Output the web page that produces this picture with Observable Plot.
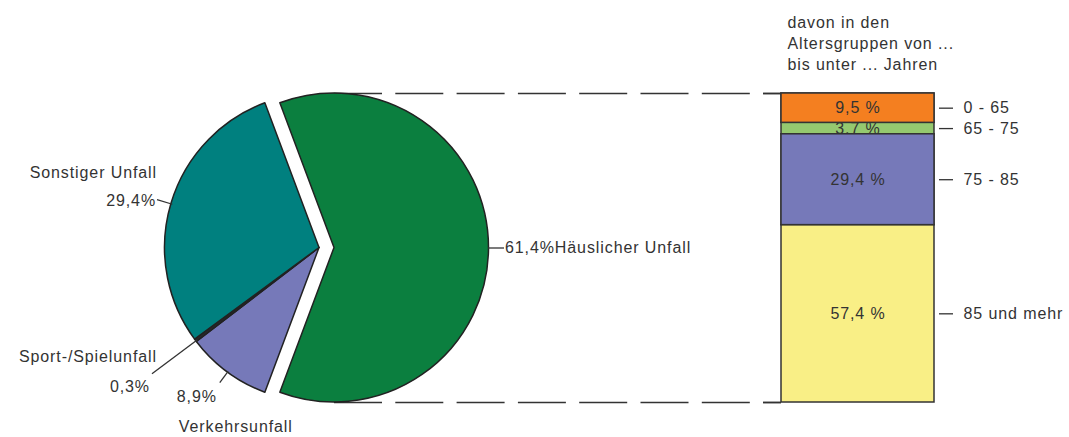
<!DOCTYPE html>
<html><head><meta charset="utf-8">
<script src="https://cdn.jsdelivr.net/npm/d3@7"></script>
<script src="https://cdn.jsdelivr.net/npm/@observablehq/plot@0.6"></script>
<style>body{margin:0;background:#fff;}</style>
</head><body><div id="chart"></div>
<script>
// ---- data ----
const causes = ["Häuslicher Unfall", "Verkehrsunfall", "Sport-/Spielunfall", "Sonstiger Unfall"];
const causeShares = [61.4, 8.9, 0.3, 29.4];
const causeColors = ["#0b7f3f", "#7679b9", "#2a2a2a", "#00807f"];
const ageGroups = ["0 - 65", "65 - 75", "75 - 85", "85 und mehr"];
const ageShares = [9.5, 3.7, 29.4, 57.4];
const ageColors = ["#f47f20", "#95c96f", "#7679b9", "#f9ef86"];
const titleLines = ["davon in den", "Altersgruppen von ...", "bis unter ... Jahren"];

const fmt = v => v.toFixed(1).replace(".", ",");

// ---- layout ----
const W = 1069, H = 437, mTop = 93, mBottom = 35;
const pieCx = 319, explode = 15;
const barX1 = 781, barX2 = 934;
const ink = "#333";
const yScale = Plot.scale({y: {domain: [0, 100], range: [H - mBottom, mTop]}});
const pieCy = yScale.apply(50);
const pieR = yScale.apply(0) - yScale.apply(50);

const total = d3.sum(causeShares);
const start = Math.PI / 2 - causeShares[0] / total * Math.PI;
const arcs = d3.pie().sort(null).startAngle(start).endAngle(start + 2 * Math.PI)(causeShares);
const slices = causes.map((c, i) => ({
  cause: c, share: causeShares[i], color: causeColors[i],
  a0: arcs[i].startAngle, a1: arcs[i].endAngle, off: i === 0 ? explode : 0
}));
function pt(s, r) {
  const m = (s.a0 + s.a1) / 2;
  return [pieCx + (s.off + r) * Math.sin(m), pieCy - (s.off + r) * Math.cos(m)];
}
const labelLayout = {
  "Häuslicher Unfall": {leader: 15, inline: true, pct: [1, 0, "start"]},
  "Sonstiger Unfall": {leader: 15, pct: [-1, 1.5, "end"], name: [0, -27, "end"]},
  "Sport-/Spielunfall": {leader: 55, pct: [-2, 13, "end"], name: [5, -17, "end"]},
  "Verkehrsunfall": {leader: 13, pct: [-23, 14, "middle"], name: [-41, 44, "start"]}
};
const leaders = [], pieLabels = [];
for (const s of slices) {
  const L = labelLayout[s.cause];
  const [x1, y1] = pt(s, pieR - 1);
  const [x2, y2] = pt(s, pieR + L.leader);
  leaders.push({x1, y1: yScale.invert(y1), x2, y2: yScale.invert(y2)});
  const pctText = fmt(s.share) + "%";
  pieLabels.push({text: L.inline ? pctText + s.cause : pctText, x: x2 + L.pct[0], y: yScale.invert(y2 + L.pct[1]), anchor: L.pct[2]});
  if (!L.inline) pieLabels.push({text: s.cause, x: x2 + L.name[0], y: yScale.invert(y2 + L.name[1]), anchor: L.name[2]});
}

// stacked bar, first group on top
let acc = 100;
const ages = ageGroups.map((g, i) => {
  const top = acc; acc -= ageShares[i];
  return {group: g, share: ageShares[i], label: fmt(ageShares[i]) + " %", y1: acc, y2: top, ym: (acc + top) / 2};
});
const front = ages.filter(d => d.group === "0 - 65" || d.group === "75 - 85");

function pieMark(index, scales) {
  const g = d3.create("svg:g");
  const arc = d3.arc();
  const cx = scales.x(pieCx), cy = scales.y(50), r = scales.y(0) - scales.y(50);
  for (const s of slices) {
    const m = (s.a0 + s.a1) / 2;
    g.append("path")
      .attr("transform", `translate(${cx + s.off * Math.sin(m)},${cy - s.off * Math.cos(m)})`)
      .attr("d", arc({innerRadius: 0, outerRadius: r, startAngle: s.a0, endAngle: s.a1}))
      .attr("fill", s.color).attr("stroke", "#222").attr("stroke-width", 1.5)
      .attr("stroke-linejoin", "round");
  }
  return g.node();
}

const rectOpts = {x1: barX1, x2: barX2, y1: "y1", y2: "y2", fill: "group", stroke: "#333", strokeWidth: 1.5};
const textOpts = {x: (barX1 + barX2) / 2, y: "ym", text: "label", fill: ink, fontSize: 16};

const chart = Plot.plot({
  width: W, height: H,
  marginTop: mTop, marginBottom: mBottom, marginLeft: 0, marginRight: 0,
  x: {domain: [0, W], axis: null},
  y: {domain: [0, 100], axis: null},
  color: {domain: ageGroups, range: ageColors},
  style: {fontFamily: "'Liberation Sans', Arial, sans-serif", letterSpacing: "0.9px", background: "#fff", overflow: "visible"},
  marks: [
    Plot.ruleY([0, 100], {x1: pieCx + explode, x2: barX1, stroke: ink, strokeWidth: 1.5, strokeDasharray: "48,13.3"}),
    pieMark,
    Plot.link(leaders, {x1: "x1", y1: "y1", x2: "x2", y2: "y2", stroke: ink, strokeWidth: 1.3}),
    ...["start", "end", "middle"].map(a => Plot.text(pieLabels.filter(d => d.anchor === a), {x: "x", y: "y", text: "text", textAnchor: a, fill: ink, fontSize: 16})),
    Plot.rect(ages, rectOpts),
    Plot.text(ages, textOpts),
    Plot.rect(front, rectOpts),
    Plot.text(front, textOpts),
    Plot.ruleY([0, 100], {x1: barX1 - 18, x2: barX1, stroke: ink, strokeWidth: 1.5}),
    Plot.ruleY(ages, {y: "ym", x1: barX2 + 5, x2: barX2 + 19, stroke: ink, strokeWidth: 1.3}),
    Plot.text(ages, {x: barX2 + 29, y: "ym", text: "group", textAnchor: "start", fill: ink, fontSize: 16}),
    Plot.text([titleLines.join("\n")], {x: barX1 + 6, y: 100, dy: -80, text: d => d, textAnchor: "start", lineAnchor: "top", lineHeight: 1.3, fill: ink, fontSize: 16})
  ]
});
document.getElementById("chart").appendChild(chart);
</script>
</body></html>
